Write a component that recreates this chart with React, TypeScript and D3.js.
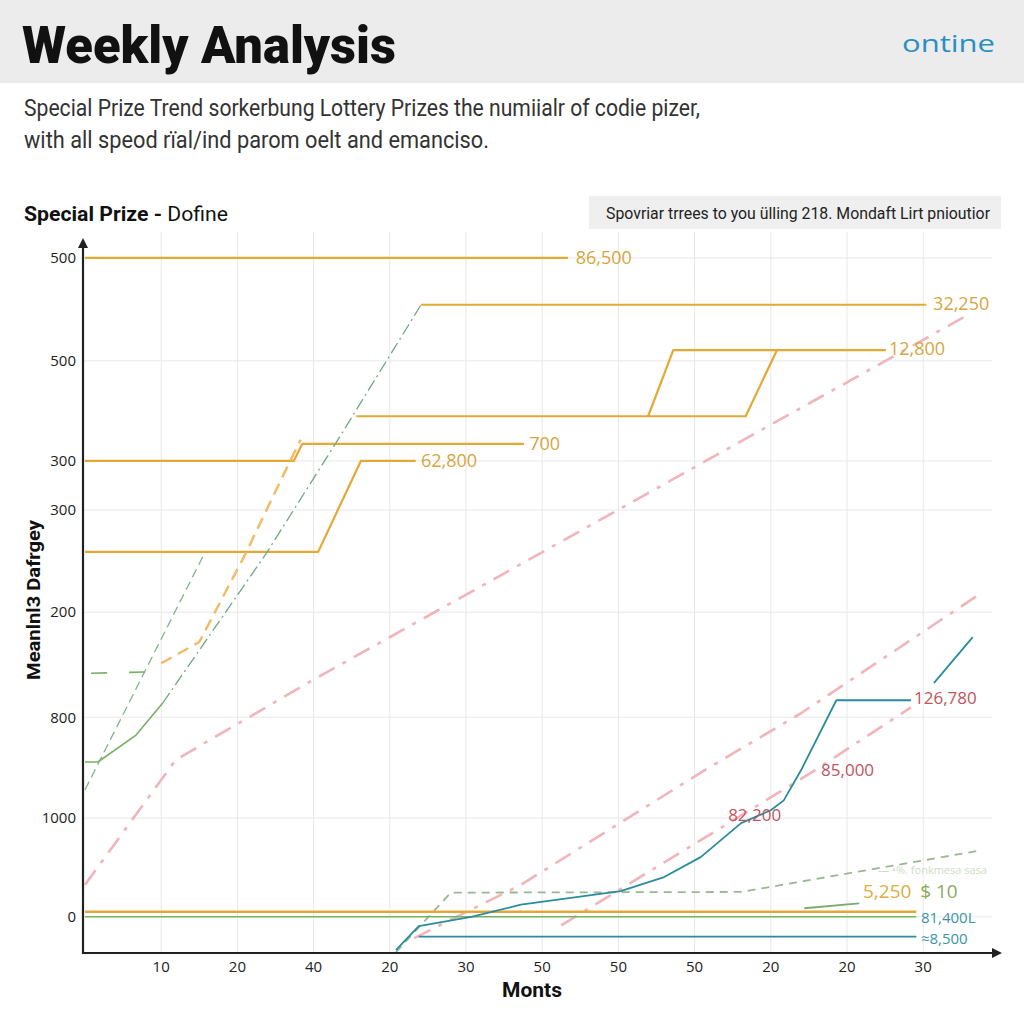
import React from "react";
import * as d3 from "d3";

// ---- data (x = position along the month axis, y = value index) ----
const xTickLabels = ["10", "20", "40", "20", "30", "50", "50", "50", "20", "20", "30"];
const xTickPositions = [1, 2, 3, 4, 5, 6, 7, 8, 9, 10, 11];
const yTickLabels = ["500", "500", "300", "300", "200", "800", "1000", "0"];
const yTickPositions = [97.9, 83.4, 69.3, 62.4, 48.0, 33.2, 19.0, 5.1];

const goldTop: [number, number][] = [[0, 97.9], [6.34, 97.9]];
const goldSecond: [number, number][] = [[4.41, 91.3], [11.04, 91.3]];
const goldLoopA: [number, number][] = [[3.56, 75.6], [8.67, 75.6], [9.08, 84.9]];
const goldLoopB: [number, number][] = [[7.39, 75.6], [7.72, 84.9], [10.51, 84.9]];
const goldStepA: [number, number][] = [[0, 69.3], [2.74, 69.3], [2.85, 71.7], [5.76, 71.7]];
const goldStepB: [number, number][] = [[0, 56.5], [3.06, 56.5], [3.62, 69.3], [4.34, 69.3]];
const goldBase: [number, number][] = [[0, 5.8], [10.91, 5.8]];
const greenBase: [number, number][] = [[0, 5.1], [10.91, 5.1]];

const greenSolid: [number, number][] = [[0, 26.9], [0.17, 26.9], [0.67, 30.7], [1.02, 35.2]];
const greenRise: [number, number][] = [[1.02, 35.2], [2.38, 56.3], [3.32, 72.3], [4.41, 91.3]];
const greenSteep: [number, number][] = [[0, 23.0], [1.56, 56.1]];
const greenShort: [number, number][] = [[0.08, 39.4], [0.85, 39.6]];
const orangeDash: [number, number][] = [[1.0, 40.8], [1.5, 43.8], [2.11, 56.3], [2.57, 66.6], [2.83, 72.3]];

const pinkUpper: [number, number][] = [[0, 9.6], [1.19, 27.2], [3.0, 38.5], [11.59, 89.9]];
const pinkMid: [number, number][] = [[4.32, 2.1], [5.72, 9.6], [8.14, 25.8], [9.4, 33.8], [11.72, 50.4]];
const pinkLow: [number, number][] = [[6.25, 3.9], [9.53, 25.4], [10.84, 34.6]];

const tealCurve: [number, number][] = [
  [4.08, 0.4], [4.38, 3.8], [5.07, 5.1], [5.72, 6.8], [7.03, 8.7], [7.6, 10.7], [8.08, 13.5],
  [8.61, 18.3], [9.0, 20.1], [9.17, 21.5], [9.4, 25.8], [9.86, 35.6], [10.84, 35.6],
];
const tealTail: [number, number][] = [[11.14, 38.0], [11.65, 44.5]];
const tealFlat: [number, number][] = [[4.38, 2.3], [10.91, 2.3]];

const greenLowDash: [number, number][] = [[4.08, 0.1], [4.8, 8.5], [8.61, 8.6], [11.73, 14.4]];
const greenTick: [number, number][] = [[9.44, 6.3], [10.16, 7.0]];

const valueLabels = ["86,500", "32,250", "12,800", "700", "62,800", "126,780", "85,000", "82,200", "5,250", "$ 10", "81,400L", "≈8,500"];
const labelX = [6.44, 11.13, 10.55, 5.83, 4.41, 10.88, 9.66, 8.44, 10.21, 10.96, 10.97, 10.97];
const labelY = [98.0, 91.5, 85.1, 71.8, 69.3, 35.9, 25.8, 19.4, 8.7, 8.7, 5.0, 2.0];
const labelColor = ["#d6a640", "#d6a640", "#d6a640", "#d6a640", "#d6a640", "#c05560", "#c05560", "#c05560", "#dcae3c", "#8aab5a", "#3a95a8", "#3a95a8"];
const labelSize = [18, 18, 18, 18, 18, 17, 17, 17, 19, 19, 15, 15];

const GOLD = "#e3a935";
const GREEN = "#76b266";
const TEAL = "#2a8c9c";
const PINK = "#f1b4bb";

export default function App() {
  const x = d3.scaleLinear().domain([0, 12]).range([85, 85 + 12 * 76.2]);
  const y = d3.scaleLinear().domain([0, 100]).range([953, 243]);
  const line = d3.line<[number, number]>().x((d) => x(d[0])).y((d) => y(d[1]));

  const series: { d: [number, number][]; c: string; w: number; dash?: string }[] = [
    { d: pinkUpper, c: PINK, w: 2.6, dash: "18,9,4,9" },
    { d: pinkMid, c: PINK, w: 2.6, dash: "18,9,4,9" },
    { d: pinkLow, c: PINK, w: 2.6, dash: "18,9,4,9" },
    { d: greenLowDash, c: "#98b890", w: 1.8, dash: "8,6" },
    { d: goldTop, c: GOLD, w: 2.2 },
    { d: goldSecond, c: GOLD, w: 2.2 },
    { d: goldLoopA, c: GOLD, w: 2.2 },
    { d: goldLoopB, c: GOLD, w: 2.2 },
    { d: goldStepA, c: GOLD, w: 2.2 },
    { d: goldStepB, c: GOLD, w: 2.2 },
    { d: goldBase, c: GOLD, w: 2.4 },
    { d: greenBase, c: GREEN, w: 1.4 },
    { d: orangeDash, c: "#f2ba62", w: 2.4, dash: "12,7" },
    { d: greenSolid, c: GREEN, w: 1.6 },
    { d: greenRise, c: "#6fa882", w: 1.3, dash: "12,4,2,4" },
    { d: greenSteep, c: "#7fb286", w: 1.3, dash: "9,5" },
    { d: greenShort, c: GREEN, w: 1.6, dash: "16,22" },
    { d: tealCurve, c: TEAL, w: 1.8 },
    { d: tealTail, c: TEAL, w: 1.8 },
    { d: tealFlat, c: TEAL, w: 1.8 },
    { d: greenTick, c: "#7fa870", w: 1.8 },
  ];

  const x0 = x(0) - 2;
  const xEnd = 1000;

  return (
    <svg width={1024} height={1024} style={{ position: "absolute", left: 0, top: 0, background: "#fff" }}>
      <rect x={0} y={0} width={1024} height={83} fill="#ececec" />
      <text x={22} y={63} fontFamily="Roboto, 'Liberation Sans', sans-serif" fontWeight={900} fontSize={52} fill="#111" textLength={374} lengthAdjust="spacingAndGlyphs">Weekly Analysis</text>
      <text x={902} y={52} fontFamily="'Open Sans', sans-serif" fontSize={24} fill="#2a8fc0" textLength={93} lengthAdjust="spacingAndGlyphs">ontine</text>
      <text x={24} y={116} fontFamily="Roboto, sans-serif" fontSize={23} fill="#333" textLength={676} lengthAdjust="spacingAndGlyphs">Special Prize Trend sorkerbung Lottery Prizes the numiialr of codie pizer,</text>
      <text x={24} y={148} fontFamily="Roboto, sans-serif" fontSize={23} fill="#333" textLength={465} lengthAdjust="spacingAndGlyphs">with all speod rïal/ind parom oelt and emanciso.</text>

      <text x={24} y={221} fontFamily="Roboto, sans-serif" fontSize={20} fill="#111" textLength={204} lengthAdjust="spacingAndGlyphs">
        <tspan fontWeight={700}>Special Prize - </tspan>
        <tspan>Dofine</tspan>
      </text>
      <rect x={589} y={196} width={412} height={33} fill="#efefef" />
      <text x={606} y={219} fontFamily="Roboto, sans-serif" fontSize={16} fill="#222" textLength={384} lengthAdjust="spacingAndGlyphs">Spovriar trrees to you ülling 218.  Mondaft Lirt pniоutior</text>

      {/* grid */}
      {xTickPositions.map((t, i) => (
        <line key={"gx" + i} x1={x(t)} x2={x(t)} y1={232} y2={953} stroke="#e7e7e7" strokeWidth={1} />
      ))}
      {yTickPositions.map((t, i) => (
        <line key={"gy" + i} x1={x0} x2={992} y1={y(t)} y2={y(t)} stroke="#e7e7e7" strokeWidth={1} />
      ))}

      {/* series */}
      {series.map((s, i) => (
        <path key={"s" + i} d={line(s.d) || ""} fill="none" stroke={s.c} strokeWidth={s.w} strokeDasharray={s.dash} strokeLinejoin="round" />
      ))}

      <text x={878} y={874} fontFamily="'Open Sans', sans-serif" fontSize={11} fill="#cfdcc6">— •%. fonkmesa  sasa</text>

      {/* value labels */}
      {valueLabels.map((t, i) => (
        <text key={"l" + i} x={x(labelX[i])} y={y(labelY[i])} dy="0.35em" fontFamily="'Open Sans', sans-serif" fontSize={labelSize[i]} fill={labelColor[i]}>{t}</text>
      ))}

      {/* axes */}
      <line x1={x0} x2={x0} y1={954} y2={246} stroke="#222" strokeWidth={2.2} />
      <path d={`M${x0 - 5},${248} L${x0},${238} L${x0 + 5},${248} Z`} fill="#222" />
      <line x1={x0 - 1} x2={xEnd - 6} y1={953} y2={953} stroke="#222" strokeWidth={2.2} />
      <path d={`M${xEnd - 8},${948} L${xEnd + 2},${953} L${xEnd - 8},${958} Z`} fill="#222" />

      {xTickPositions.map((t, i) => (
        <text key={"xt" + i} x={x(t)} y={972} textAnchor="middle" fontFamily="'Open Sans', sans-serif" fontSize={15} fill="#222">{xTickLabels[i]}</text>
      ))}
      {yTickPositions.map((t, i) => (
        <text key={"yt" + i} x={76} y={y(t)} dy="0.35em" textAnchor="end" fontFamily="'Open Sans', sans-serif" fontSize={15} fill="#222">{yTickLabels[i]}</text>
      ))}

      <text x={532} y={997} textAnchor="middle" fontFamily="Roboto, sans-serif" fontWeight={700} fontSize={21} fill="#111">Monts</text>
      <text transform="translate(40,600) rotate(-90)" textAnchor="middle" fontFamily="Roboto, sans-serif" fontWeight={700} fontSize={18} fill="#111" textLength={160} lengthAdjust="spacingAndGlyphs">Meanlnl3 Dafrgey</text>
    </svg>
  );
}
